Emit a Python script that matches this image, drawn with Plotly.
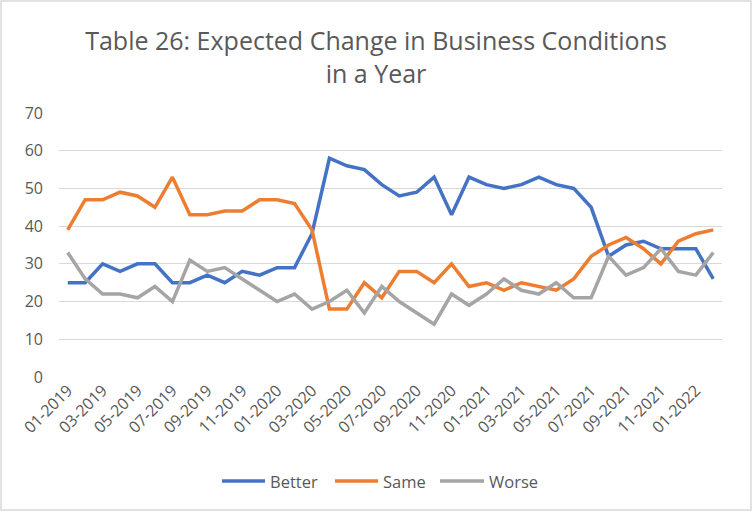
import plotly.graph_objects as go

# Monthly survey months, 01-2019 .. 02-2022
months = [f"{m:02d}-{y}" for y in (2019, 2020, 2021) for m in range(1, 13)] + ["01-2022", "02-2022"]

better = [25, 25, 30, 28, 30, 30, 25, 25, 27, 25, 28, 27, 29, 29, 38, 58, 56, 55, 51,
          48, 49, 53, 43, 53, 51, 50, 51, 53, 51, 50, 45, 32, 35, 36, 34, 34, 34, 26]
same = [39, 47, 47, 49, 48, 45, 53, 43, 43, 44, 44, 47, 47, 46, 39, 18, 18, 25, 21,
        28, 28, 25, 30, 24, 25, 23, 25, 24, 23, 26, 32, 35, 37, 34, 30, 36, 38, 39]
worse = [33, 26, 22, 22, 21, 24, 20, 31, 28, 29, 26, 23, 20, 22, 18, 20, 23, 17, 24,
         20, 17, 14, 22, 19, 22, 26, 23, 22, 25, 21, 21, 32, 27, 29, 34, 28, 27, 33]

tick_labels = months[::2]

series = [("Better", better, "#4472C4"), ("Same", same, "#ED7D31"), ("Worse", worse, "#A5A5A5")]

fig = go.Figure()
for name, vals, col in series:
    fig.add_trace(go.Scatter(x=months, y=vals, name=name, mode="lines",
                             line=dict(color=col, width=3.5), showlegend=False))

font = "Open Sans"
L, R, T, B = 59, 30, 113, 135
pw, ph = 752 - L - R, 512 - T - B

def px(x):  # page pixel -> paper x
    return (x - L) / pw

def py(y):  # page pixel -> paper y
    return (512 - B - y) / ph

fig.update_layout(
    width=752, height=512,
    margin=dict(l=L, r=R, t=T, b=B),
    paper_bgcolor="white", plot_bgcolor="white",
    font=dict(family=font, size=16, color="#595959"),
    title=dict(text="Table 26: Expected Change in Business Conditions<br>in a Year",
               x=0.5, xanchor="center", y=1 - 50 / 512, yanchor="middle",
               font=dict(family=font, size=25, color="#595959")),
    xaxis=dict(type="category", tickmode="array", tickvals=tick_labels, ticktext=tick_labels,
               tickangle=-45, showgrid=False, showline=False, ticks="", automargin=False,
               range=[-0.5, len(months) - 0.5]),
    yaxis=dict(range=[0, 70], dtick=10, gridcolor="#d9d9d9", gridwidth=1, automargin=False,
               zeroline=False, showline=False, ticks="", ticklabelstandoff=15),
    showlegend=False,
)

# legend drawn by hand, Excel style (long line keys)
legend_pos = [(222, 265, 268), (335, 378, 381), (440, 484, 487)]
for (name, _, col), (x0, x1, xt) in zip(series, legend_pos):
    fig.add_shape(type="line", xref="paper", yref="paper",
                  x0=px(x0), x1=px(x1), y0=py(481), y1=py(481),
                  line=dict(color=col, width=3.5))
    fig.add_annotation(text=name, xref="paper", yref="paper", x=px(xt), y=py(481),
                       xanchor="left", yanchor="middle", showarrow=False,
                       font=dict(size=16.5, color="#595959"))

# outer chart border
fig.add_shape(type="rect", xref="paper", yref="paper",
              x0=px(1), x1=px(751), y0=py(510), y1=py(1),
              line=dict(color="#d9d9d9", width=1.5), layer="below")

fig.write_html("out.html", config={"displayModeBar": False},
               post_script="document.body.style.margin='0';")
